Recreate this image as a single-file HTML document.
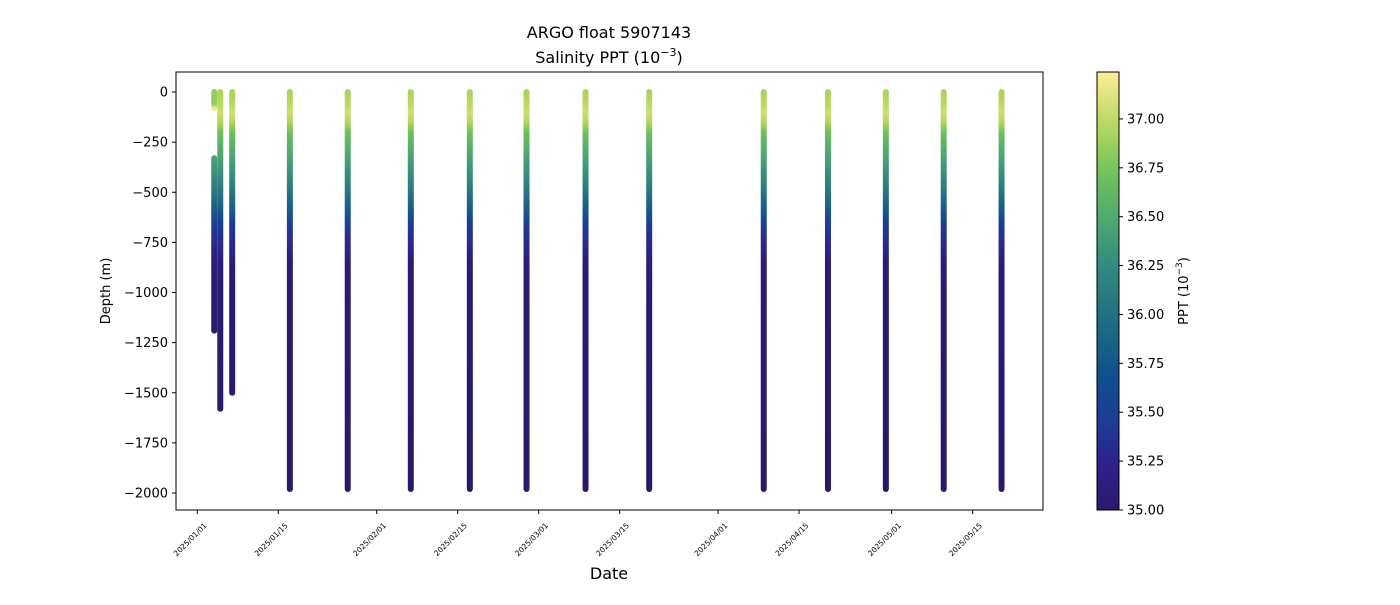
<!DOCTYPE html>
<html><head><meta charset="utf-8"><style>
body{margin:0;background:#fff;}
svg text{font-family:"DejaVu Sans","Liberation Sans",sans-serif;fill:#000;}
</style></head><body>
<svg id="chart" width="1400" height="600" xmlns="http://www.w3.org/2000/svg">
<defs id="defs"></defs>
<text x="609" y="38" font-size="16" text-anchor="middle">ARGO float 5907143</text>
<text x="609" y="63" font-size="16" text-anchor="middle">Salinity PPT (10<tspan font-size="11" dy="-7">−3</tspan><tspan dy="7">)</tspan></text>
<g id="plot"></g>
<rect x="176" y="72" width="867" height="438" fill="none" stroke="#000" stroke-width="1"/>
<text x="609" y="579" font-size="16" text-anchor="middle">Date</text>
<text transform="translate(110,291) rotate(-90)" font-size="13" text-anchor="middle">Depth (m)</text>
<g id="cbar"></g>
<text transform="translate(1188,291) rotate(-90)" font-size="13" text-anchor="middle">PPT (10<tspan font-size="9" dy="-6">−3</tspan><tspan dy="6">)</tspan></text>
</svg>
<script>
const profileDays=[2.93,2.93,3.97,6.03,16.0,26.0,36.9,47.1,56.9,67.1,78.1,97.9,109.0,119.0,129.0,139.0];
const profileTop=[0,330,0,0,0,0,0,0,0,0,0,0,0,0,0,0];
const profileBottom=[80,1190,1580,1500,1980,1980,1980,1980,1980,1980,1980,1980,1980,1980,1980,1980];
const levelDepths=[0,60,100,150,200,300,450,550,650,750,850,1000,1500,2000];
const levelSal=[36.92,36.98,37.05,36.95,36.72,36.5,36.2,35.9,35.5,35.3,35.1,35.05,35.02,35.0];
const yTicks=[0,-250,-500,-750,-1000,-1250,-1500,-1750,-2000];
const xTickLabels=["2025/01/01","2025/01/15","2025/02/01","2025/02/15","2025/03/01","2025/03/15","2025/04/01","2025/04/15","2025/05/01","2025/05/15"];
const xTickDays=[0,14,31,45,59,73,90,104,120,134];
const cbTicks=[35.0,35.25,35.5,35.75,36.0,36.25,36.5,36.75,37.0];
const cmin=35.0,cmax=37.24;
const stops=[[0,[42,24,108]],[0.1,[46,34,140]],[0.2,[30,60,150]],[0.3,[14,78,143]],[0.42,[30,108,130]],[0.55,[50,135,128]],[0.65,[75,165,115]],[0.77,[110,195,90]],[0.88,[185,215,95]],[1,[253,238,153]]];
function cmap(v){let t=Math.max(0,Math.min(1,(v-cmin)/(cmax-cmin)));for(let i=1;i<stops.length;i++){if(t<=stops[i][0]){const a=stops[i-1],b=stops[i];const f=(t-a[0])/(b[0]-a[0]);const c=a[1].map((x,k)=>Math.round(x+(b[1][k]-x)*f));return`rgb(${c})`;}}return'rgb(253,238,153)';}
function salAt(d){for(let i=1;i<levelDepths.length;i++){if(d<=levelDepths[i]){const f=(d-levelDepths[i-1])/(levelDepths[i]-levelDepths[i-1]);return levelSal[i-1]+(levelSal[i]-levelSal[i-1])*f;}}return levelSal[levelSal.length-1];}
const xScale=d=>197.3+d*5.786;
const yScale=m=>92+(-m)*0.2005;
const NS='http://www.w3.org/2000/svg';
function mk(tag,attrs,parent){const e=document.createElementNS(NS,tag);for(const k in attrs)e.setAttribute(k,attrs[k]);parent.appendChild(e);return e;}
const plot=document.getElementById('plot'),defs=document.getElementById('defs');
profileDays.forEach((day,i)=>{
  const top=profileTop[i],bot=profileBottom[i];
  const g=mk('linearGradient',{id:'g'+i,gradientUnits:'userSpaceOnUse',x1:0,x2:0,y1:yScale(-top),y2:yScale(-bot)},defs);
  const pts=[top,...levelDepths.filter(d=>d>top&&d<bot),bot];
  pts.forEach(d=>{let s=salAt(d);if(i===0)s=(d>=80)?37.2:36.85;mk('stop',{offset:(d-top)/(bot-top),'stop-color':cmap(s)},g);});
  const x=xScale(day);
  const ln=mk('line',{x1:x,x2:x,y1:yScale(-top),y2:yScale(-bot),stroke:`url(#g${i})`,'stroke-width':6,'stroke-linecap':'round'},plot);
  
  
});
yTicks.forEach(v=>{const y=yScale(v);
  const t=mk('line',{x1:172,x2:176,y1:y,y2:y,stroke:'#000'},plot);
  
  
  const l=mk('text',{x:168,y:y+4.5,'font-size':13,'text-anchor':'end'},plot);l.textContent=String(v).replace('-','−');
  
  
});
xTickDays.forEach((d,i)=>{const x=xScale(d);
  const t=mk('line',{x1:x,x2:x,y1:510,y2:514,stroke:'#000'},plot);
  
  
  const l=mk('text',{transform:`translate(${x+10},${526}) rotate(-45)`,'font-size':7.5,'text-anchor':'end'},plot);l.textContent=xTickLabels[i];
  
  
});
const cb=document.getElementById('cbar');
const cg=mk('linearGradient',{id:'cbg',x1:0,x2:0,y1:1,y2:0},defs);
for(let k=0;k<=20;k++){mk('stop',{offset:k/20,'stop-color':cmap(cmin+(cmax-cmin)*k/20)},cg);}
const cr=mk('rect',{x:1097,y:72,width:22,height:438,fill:'url(#cbg)',stroke:'#000','stroke-width':1},cb);


const cy=v=>510-(v-cmin)/(cmax-cmin)*438;
cbTicks.forEach(v=>{const y=cy(v);
  const t=mk('line',{x1:1119,x2:1123,y1:y,y2:y,stroke:'#000'},cb);
  
  
  const l=mk('text',{x:1127,y:y+4.5,'font-size':13},cb);l.textContent=v.toFixed(2);
  
  
});
</script>
</body></html>
